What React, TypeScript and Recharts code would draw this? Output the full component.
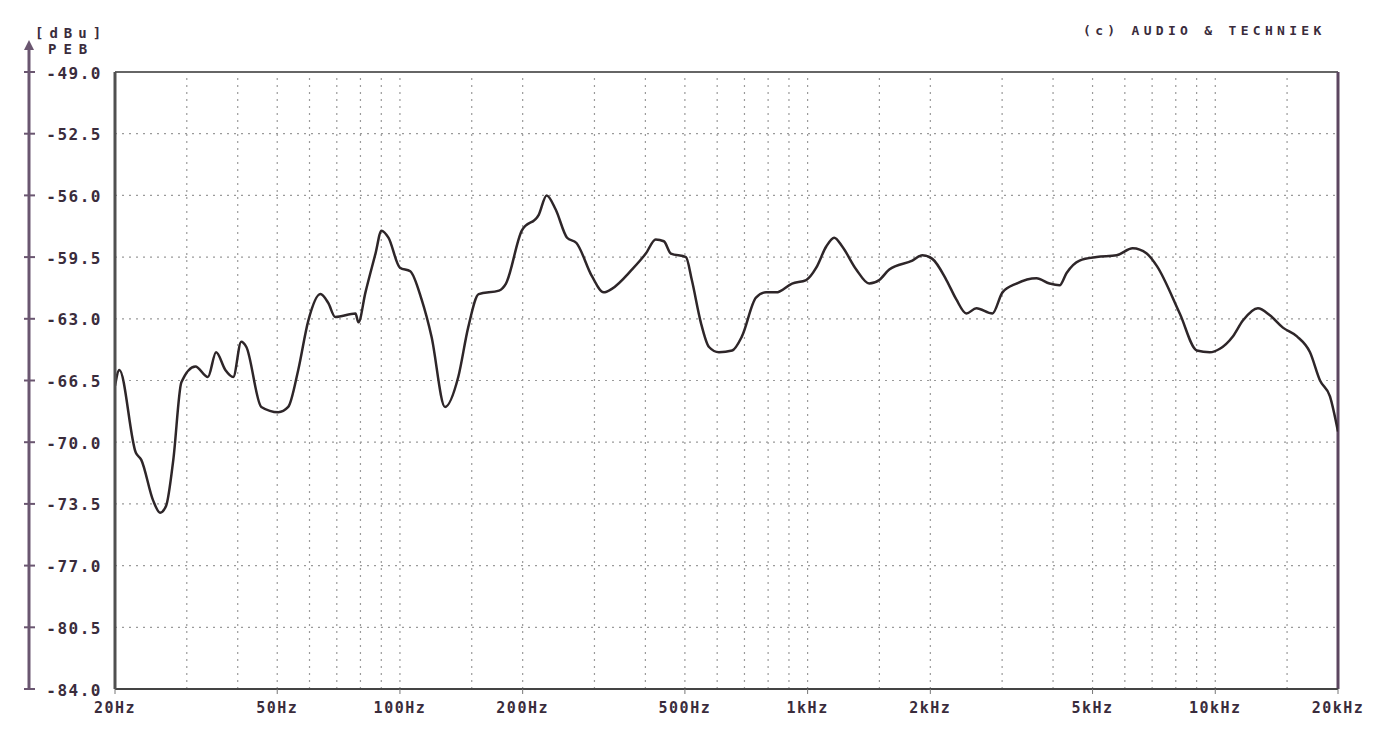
import React from 'react';
import { LineChart, Line, XAxis, YAxis, CartesianGrid, ReferenceLine } from 'recharts';

// frequency response (Hz / dBu)
const FREQ = [
  20, 20.5, 22.5, 23.2, 24.8, 25.8, 26.7, 27.8, 29.1, 31.5, 33.8, 35.4, 37.3, 39.0, 40.8, 42.0,
  45.7, 50.3, 53.2, 56.3, 59.6, 63.8, 66.7, 69.4, 77.8, 79.1, 82.3, 87.1, 90.1, 93.7, 100, 106,
  113, 119.5, 129, 139, 147, 156, 175, 182, 199, 219, 229, 241, 257, 271, 296, 316,
  331, 371, 401, 424, 444, 462, 503, 520, 547, 573, 606, 653, 690, 747, 791, 837,
  916, 992, 1050, 1111, 1162, 1216, 1316, 1416, 1499, 1586, 1807, 1911, 2023, 2190, 2316, 2452,
  2594, 2840, 3006, 3254, 3642, 3922, 4150, 4318, 4646, 5117, 5728, 6272, 6790, 7186, 8182, 9010,
  9694, 10260, 11042, 11686, 12722, 13612, 14650, 15862, 17074, 18068, 19112, 20000,
];
const LEVEL = [
  -66.8, -65.9, -70.6, -71.0, -73.3, -74.0, -73.6, -71.0, -66.6, -65.7, -66.3, -64.9, -65.9, -66.3, -64.3, -64.6,
  -68.0, -68.3, -68.0, -65.9, -63.1, -61.6, -62.1, -62.9, -62.7, -63.2, -61.5, -59.3, -58.0, -58.4, -60.1, -60.3,
  -61.9, -64.0, -68.0, -66.3, -63.5, -61.6, -61.4, -61.0, -58.0, -57.1, -56.0, -56.8, -58.4, -58.7, -60.6, -61.5,
  -61.3, -60.2, -59.3, -58.5, -58.6, -59.3, -59.5, -60.8, -63.2, -64.6, -64.9, -64.8, -64.0, -61.8, -61.5, -61.5,
  -61.0, -60.8, -60.1, -58.9, -58.4, -58.9, -60.2, -61.0, -60.8, -60.2, -59.7, -59.4, -59.6, -60.8, -61.9, -62.7,
  -62.4, -62.7, -61.5, -61.0, -60.7, -61.0, -61.1, -60.4, -59.7, -59.5, -59.4, -59.0, -59.3, -60.0, -62.7, -64.8,
  -64.9, -64.7, -64.0, -63.1, -62.4, -62.8, -63.5, -64.0, -64.9, -66.5, -67.4, -69.4,
];

const X_TICKS = [20, 50, 100, 200, 500, 1000, 2000, 5000, 10000, 20000];
const X_LABELS = ['20Hz', '50Hz', '100Hz', '200Hz', '500Hz', '1kHz', '2kHz', '5kHz', '10kHz', '20kHz'];
const X_GRID = [30, 40, 50, 60, 70, 80, 90, 100, 150, 200, 300, 400, 500, 600, 700, 800, 900,
  1000, 1500, 2000, 3000, 4000, 5000, 6000, 7000, 8000, 9000, 10000, 15000];
const Y_TICKS = [-84, -80.5, -77, -73.5, -70, -66.5, -63, -59.5, -56, -52.5, -49];

const data = FREQ.map((f, i) => ({ f, level: LEVEL[i] }));

const FONT = '"DejaVu Sans Mono", "Liberation Mono", monospace';
const INK = '#3a2c3c';
const AXIS = '#6a5670';
const GRID = '#9a9a9a';

const YTick = (props: any) => {
  const { y, payload } = props;
  return (
    <g>
      <line x1={24} x2={35} y1={y} y2={y} stroke={AXIS} strokeWidth={2} />
      <text x={102} y={y + 2} textAnchor="end" dominantBaseline="middle"
        fontFamily={FONT} fontWeight="bold" fontSize={16} letterSpacing={1.5} fill={INK}>
        {Number(payload.value).toFixed(1)}
      </text>
    </g>
  );
};

const XTick = (props: any) => {
  const { x, y, payload } = props;
  const idx = X_TICKS.indexOf(payload.value);
  return (
    <text x={x} y={y + 12} textAnchor="middle" dominantBaseline="middle"
      fontFamily={FONT} fontWeight="bold" fontSize={15} letterSpacing={1.5} fill={INK}>
      {X_LABELS[idx]}
    </text>
  );
};

export default function App() {
  return (
    <div style={{ position: 'absolute', left: 0, top: 0, width: 1398, height: 736, background: '#fff' }}>
      <LineChart width={1398} height={736} data={data} margin={{ top: 72, right: 60, bottom: 0, left: 0 }}>
        <CartesianGrid vertical={false} stroke={GRID} strokeDasharray="2 5" strokeWidth={1.2} />
        {X_GRID.map((f) => (
          <ReferenceLine key={f} x={f} stroke={GRID} strokeDasharray="2 5" strokeWidth={1.2} />
        ))}
        <XAxis dataKey="f" type="number" scale="log" domain={[20, 20000]} allowDataOverflow
          ticks={X_TICKS} interval={0} height={47} tickSize={5}
          tickLine={{ stroke: '#777' }} axisLine={{ stroke: '#444', strokeWidth: 2 }} tick={<XTick />} />
        <YAxis type="number" domain={[-84, -49]} ticks={Y_TICKS} interval={0} width={115}
          tickLine={false} axisLine={{ stroke: '#505050', strokeWidth: 3 }} tick={<YTick />} />
        <ReferenceLine y={-49} stroke="#666" strokeWidth={2} />
        <ReferenceLine x={20000} stroke="#5c4660" strokeWidth={3} />
        <Line dataKey="level" type="monotone" stroke="#2e2629" strokeWidth={2.5} dot={false} isAnimationActive={false} />
      </LineChart>
      <svg width={1398} height={736} style={{ position: 'absolute', left: 0, top: 0, pointerEvents: 'none' }}>
        <line x1={29} x2={29} y1={46} y2={689} stroke={AXIS} strokeWidth={3} />
        <polygon points="29,40 24,50 34,50" fill={AXIS} />
        <text x={35} y={34} dominantBaseline="middle" fontFamily={FONT} fontWeight="bold" fontSize={14}
          letterSpacing={6} fill={INK}>[dBu]</text>
        <text x={48} y={50} dominantBaseline="middle" fontFamily={FONT} fontWeight="bold" fontSize={14}
          letterSpacing={7} fill={INK}>PEB</text>
        <text x={1083} y={31} dominantBaseline="middle" fontFamily={FONT} fontWeight="bold" fontSize={13}
          letterSpacing={4.3} fill={INK}>(c) AUDIO &amp; TECHNIEK</text>
      </svg>
    </div>
  );
}
